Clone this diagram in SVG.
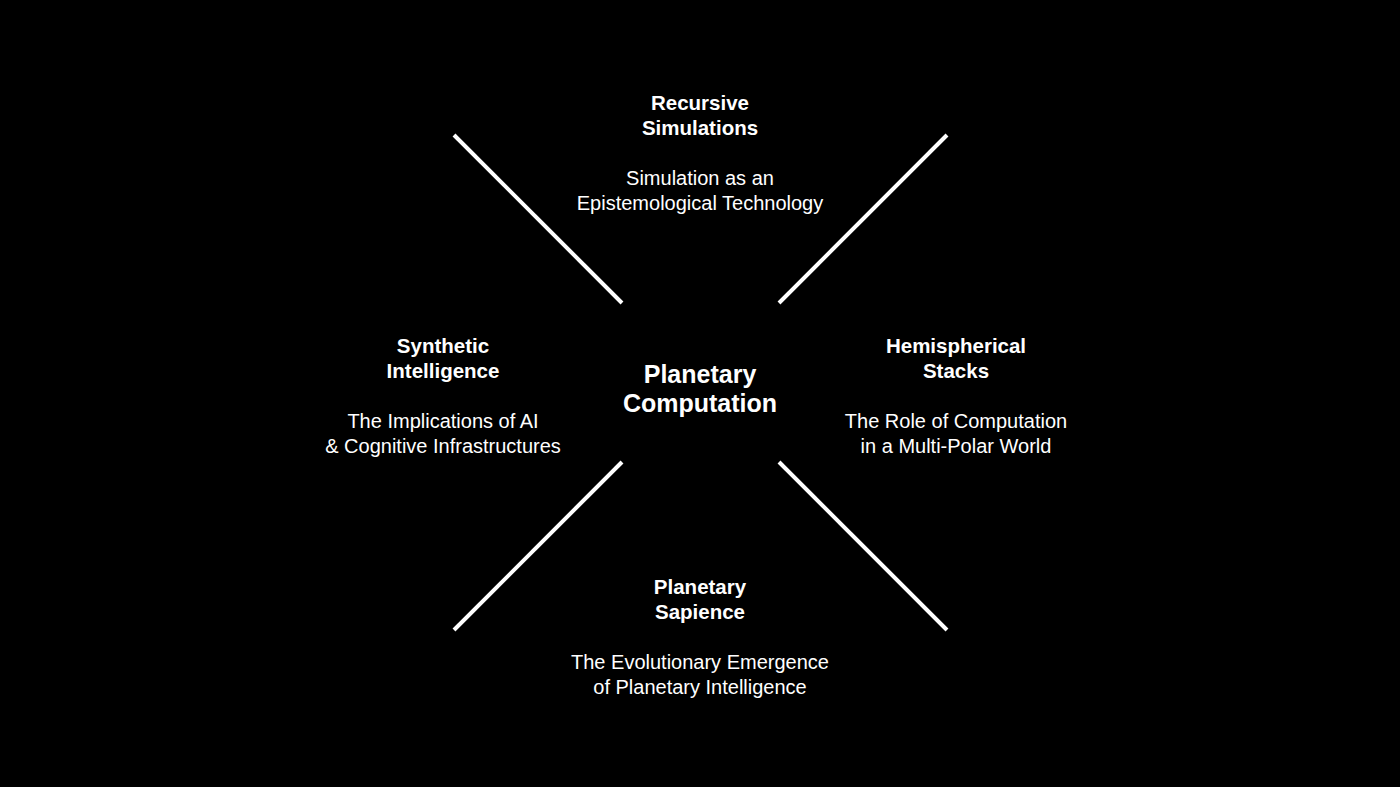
<svg xmlns="http://www.w3.org/2000/svg" width="1400" height="787" viewBox="0 0 1400 787">
<style>
.t{font-family:"Liberation Sans",Arial,sans-serif;font-weight:bold;font-size:20.5px;fill:#fff;text-anchor:middle}
.s{font-family:"Liberation Sans",Arial,sans-serif;font-size:20px;fill:#fff;text-anchor:middle}
.c{font-family:"Liberation Sans",Arial,sans-serif;font-weight:bold;font-size:25px;fill:#fff;text-anchor:middle}
line{stroke:#fff;stroke-width:4}
</style>
<rect width="1400" height="787" fill="#000"/>
<g id="connectors">
<line x1="454" y1="135" x2="622" y2="303"/>
<line x1="947" y1="135" x2="779" y2="303"/>
<line x1="622" y1="462" x2="454" y2="630"/>
<line x1="779" y1="462" x2="947" y2="630"/>
</g>
<g id="center"><text class="c" x="700" y="383">Planetary</text><text class="c" x="700" y="412">Computation</text></g>
<g id="top"><text class="t" x="700" y="110">Recursive</text><text class="t" x="700" y="135">Simulations</text><text class="s" x="700" y="185">Simulation as an</text><text class="s" x="700" y="210">Epistemological Technology</text></g>
<g id="left"><text class="t" x="443" y="353">Synthetic</text><text class="t" x="443" y="378">Intelligence</text><text class="s" x="443" y="428">The Implications of AI</text><text class="s" x="443" y="453">&amp; Cognitive Infrastructures</text></g>
<g id="right"><text class="t" x="956" y="353">Hemispherical</text><text class="t" x="956" y="378">Stacks</text><text class="s" x="956" y="428">The Role of Computation</text><text class="s" x="956" y="453">in a Multi-Polar World</text></g>
<g id="bottom"><text class="t" x="700" y="594">Planetary</text><text class="t" x="700" y="619">Sapience</text><text class="s" x="700" y="669">The Evolutionary Emergence</text><text class="s" x="700" y="694">of Planetary Intelligence</text></g>
</svg>
